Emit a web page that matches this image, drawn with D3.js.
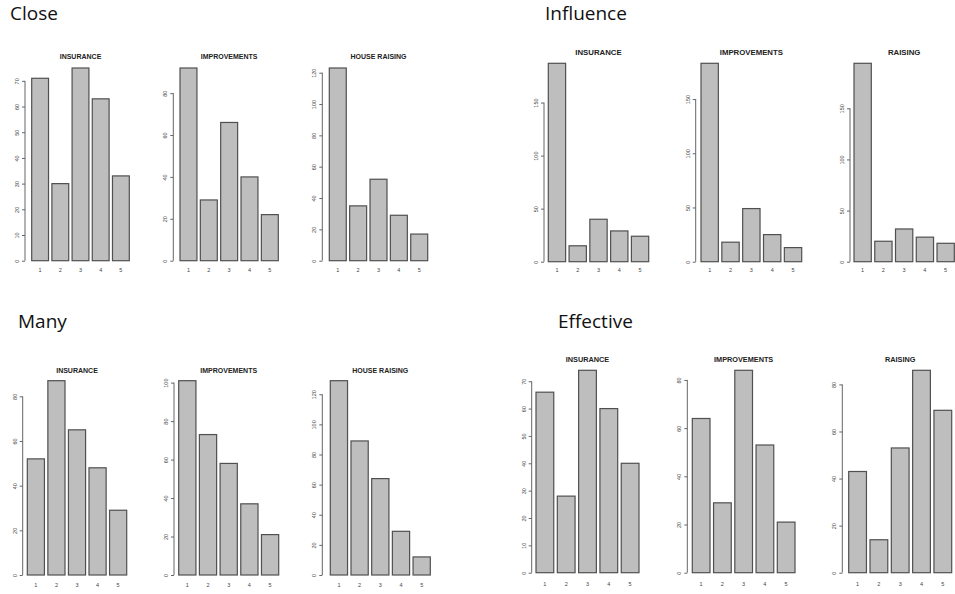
<!doctype html>
<html>
<head>
  <script src="https://d3js.org/d3.v7.min.js" charset="utf-8"></script>
  <style>
    body { margin: 0; background: #fff; }
  </style>
</head>
<body>
  <div id="viz"></div>
  <script>
    // ---- data ----
    var categories = ["1", "2", "3", "4", "5"];
    var groupNames = ["Close", "Influence", "Many", "Effective"];
    var titlesHouse = ["INSURANCE", "IMPROVEMENTS", "HOUSE RAISING"];
    var titlesShort = ["INSURANCE", "IMPROVEMENTS", "RAISING"];

    var closeInsurance = [71, 30, 75, 63, 33];
    var closeImprovements = [92, 29, 66, 40, 22];
    var closeRaising = [123, 35, 52, 29, 17];

    var influenceInsurance = [187, 15, 40, 29, 24];
    var influenceImprovements = [183, 18, 49, 25, 13];
    var influenceRaising = [194, 20, 32, 24, 18];

    var manyInsurance = [52, 87, 65, 48, 29];
    var manyImprovements = [101, 73, 58, 37, 21];
    var manyRaising = [129, 89, 64, 29, 12];

    var effectiveInsurance = [66, 28, 74, 60, 40];
    var effectiveImprovements = [64, 29, 84, 53, 21];
    var effectiveRaising = [43, 14, 53, 86, 69];

    // y tick values of each small plot
    var ticks0to70 = [0, 10, 20, 30, 40, 50, 60, 70];
    var ticks0to80 = [0, 20, 40, 60, 80];
    var ticks0to100 = [0, 20, 40, 60, 80, 100];
    var ticks0to120 = [0, 20, 40, 60, 80, 100, 120];
    var ticks0to150 = [0, 50, 100, 150];

    // ---- layout (pixels) ----
    var W = 955, H = 594;
    var groups = [
      { name: groupNames[0], hx: 10, hy: 20, zero: 260.7, top: 68, titleY: 58.5, labY: 272, tsize: 7,
        titles: titlesHouse, series: [closeInsurance, closeImprovements, closeRaising],
        ticks: [ticks0to70, ticks0to80, ticks0to120],
        bars: [[31.7, 129.3, 25], [180, 278.3, 173.3], [329.3, 427.7, 322.3]] },
      { name: groupNames[1], hx: 545, hy: 20, zero: 261.7, top: 63.3, titleY: 55, labY: 272, tsize: 7.8,
        titles: titlesShort, series: [influenceInsurance, influenceImprovements, influenceRaising],
        ticks: [ticks0to150, ticks0to150, ticks0to150],
        bars: [[548.3, 648.7, 544], [701, 801.7, 695.7], [854, 954.3, 850]] },
      { name: groupNames[2], hx: 18, hy: 328, zero: 575, top: 380.7, titleY: 372.5, labY: 587, tsize: 7,
        titles: titlesHouse, series: [manyInsurance, manyImprovements, manyRaising],
        ticks: [ticks0to80, ticks0to100, ticks0to120],
        bars: [[27.3, 126.7, 22.7], [178.7, 278.7, 174], [330.3, 430.3, 322.3]] },
      { name: groupNames[3], hx: 558, hy: 328, zero: 572.7, top: 370.3, titleY: 361.5, labY: 585.5, tsize: 7.3,
        titles: titlesShort, series: [effectiveInsurance, effectiveImprovements, effectiveRaising],
        ticks: [ticks0to70, ticks0to80, ticks0to80],
        bars: [[536, 639, 531.7], [692.3, 795, 687.3], [848.7, 951.7, 842.3]] }
    ];

    var svg = d3.select("#viz").append("svg")
      .attr("width", W).attr("height", H)
      .style("font-family", "'Liberation Sans', Arial, sans-serif");

    groups.forEach(function (g) {
      // group heading
      svg.append("text")
        .attr("x", g.hx).attr("y", g.hy)
        .style("font-family", "'Open Sans', sans-serif")
        .style("font-size", "19px")
        .style("fill", "#111")
        .text(g.name);

      g.series.forEach(function (values, i) {
        var b = g.bars[i];
        var x = d3.scaleBand().domain(categories).range([b[0], b[1]])
          .paddingInner(1 / 6).paddingOuter(0);
        var y = d3.scaleLinear().domain([0, d3.max(values)]).range([g.zero, g.top]);
        var p = svg.append("g");

        p.selectAll("rect").data(values).enter().append("rect")
          .attr("x", function (d, k) { return x(categories[k]); })
          .attr("y", function (d) { return y(d); })
          .attr("width", x.bandwidth())
          .attr("height", function (d) { return y(0) - y(d); })
          .style("fill", "#bebebe")
          .style("stroke", "#505050")
          .style("stroke-width", 1.2);

        // plot title
        p.append("text")
          .attr("x", (b[0] + b[1]) / 2).attr("y", g.titleY)
          .attr("text-anchor", "middle")
          .style("font-size", g.tsize + "px")
          .style("font-weight", "bold")
          .style("fill", "#222")
          .text(g.titles[i]);

        // y axis
        var tk = g.ticks[i];
        var ax = p.append("g")
          .attr("transform", "translate(" + b[2] + ",0)")
          .call(d3.axisLeft(y).tickValues(tk).tickSize(3).tickPadding(6).tickSizeOuter(0));
        ax.select(".domain").attr("d", "M0," + y(tk[0]) + "V" + y(tk[tk.length - 1]))
          .style("stroke", "#666");
        ax.selectAll(".tick line").style("stroke", "#666");
        ax.selectAll(".tick text")
          .attr("x", null).attr("dy", null)
          .attr("text-anchor", "middle")
          .attr("transform", "translate(-8,0) rotate(-90)")
          .attr("dy", "0.35em")
          .style("font-size", "5.5px")
          .style("fill", "#444");

        // x category labels
        p.selectAll(".xl").data(categories).enter().append("text")
          .attr("class", "xl")
          .attr("x", function (c) { return x(c) + x.bandwidth() / 2; })
          .attr("y", g.labY)
          .attr("text-anchor", "middle")
          .style("font-size", "5.5px")
          .style("fill", "#444")
          .text(function (c) { return c; });
      });
    });
  </script>
</body>
</html>
